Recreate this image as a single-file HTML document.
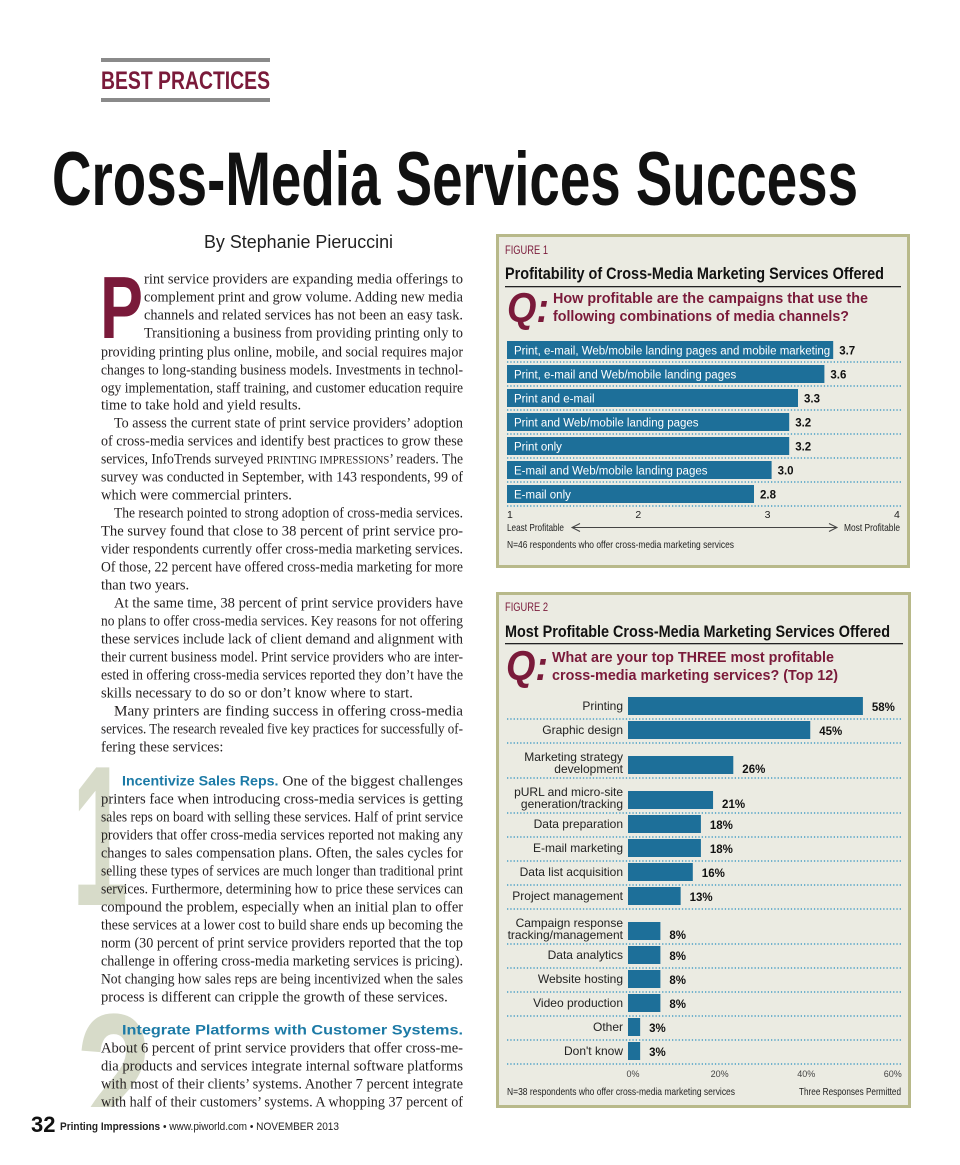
<!DOCTYPE html>
<html><head><meta charset="utf-8">
<style>
html,body{margin:0;padding:0;background:#fff;}
svg{display:block;}
.ser{font-family:"Liberation Serif",serif;font-size:14.5px;fill:#231f20;}
.sans{font-family:"Liberation Sans",sans-serif;}
</style></head>
<body>
<svg id="page" width="960" height="1165" viewBox="0 0 960 1165" xmlns="http://www.w3.org/2000/svg">
  <defs><clipPath id="clip2"><rect x="0" y="990" width="200" height="117"/></clipPath></defs>
  <rect x="101" y="58" width="169" height="4" fill="#8a8a8a"/>
  <text x="101" y="89" class="sans" font-size="25" font-weight="bold" fill="#7a1a3a" textLength="169" lengthAdjust="spacingAndGlyphs">BEST PRACTICES</text>
  <rect x="101" y="98" width="169" height="4" fill="#8a8a8a"/>
  <text x="52" y="205" class="sans" font-size="76" font-weight="bold" fill="#111" textLength="806" lengthAdjust="spacingAndGlyphs">Cross-Media Services Success</text>
  <text x="204" y="248" class="sans" font-size="18" fill="#222" textLength="189" lengthAdjust="spacingAndGlyphs">By Stephanie Pieruccini</text>
  <text x="100" y="338" class="sans" font-size="88" font-weight="bold" fill="#7a1a3a" textLength="43" lengthAdjust="spacingAndGlyphs">P</text>
  <text x="72" y="905" class="sans" font-size="200" font-weight="bold" fill="#d7dbc9" textLength="56" lengthAdjust="spacingAndGlyphs">1</text>
  <g clip-path="url(#clip2)"><text x="76" y="1146" class="sans" font-size="190" font-weight="bold" fill="#d7dbc9" textLength="76" lengthAdjust="spacingAndGlyphs">2</text></g>
  <g id="body"></g>
  <text x="31" y="1132" class="sans" font-size="22" font-weight="bold" fill="#111">32</text>
  <text x="60" y="1130" class="sans" font-size="11" fill="#222" textLength="279" lengthAdjust="spacingAndGlyphs"><tspan font-weight="bold">Printing Impressions</tspan> • www.piworld.com • NOVEMBER 2013</text>

  <rect x="497.5" y="235.5" width="411" height="331" fill="#ebebe2" stroke="#b8b98a" stroke-width="3"/>
  <text x="505" y="254" class="sans" font-size="12" fill="#7a1a3a" textLength="43" lengthAdjust="spacingAndGlyphs">FIGURE 1</text>
  <text x="505" y="279" class="sans" font-size="17" font-weight="bold" fill="#111" textLength="379" lengthAdjust="spacingAndGlyphs">Profitability of Cross-Media Marketing Services Offered</text>
  <rect x="505" y="286" width="396" height="1.3" fill="#222"/>
  <text x="507" y="322" class="sans" font-size="42" font-weight="bold" font-style="italic" fill="#7a1a3a" textLength="42" lengthAdjust="spacingAndGlyphs">Q:</text>
  <text x="553" y="303" class="sans" font-size="14.5" font-weight="bold" fill="#7a1a3a" textLength="315" lengthAdjust="spacingAndGlyphs">How profitable are the campaigns that use the</text>
  <text x="553" y="321" class="sans" font-size="14.5" font-weight="bold" fill="#7a1a3a" textLength="296" lengthAdjust="spacingAndGlyphs">following combinations of media channels?</text>
  <g id="chart1"></g>
  <text x="507" y="531" class="sans" font-size="10.5" fill="#222" textLength="57" lengthAdjust="spacingAndGlyphs">Least Profitable</text>
  <g stroke="#444" stroke-width="1" fill="none">
    <line x1="572" y1="527.5" x2="837" y2="527.5"/>
    <polyline points="580,523.5 572,527.5 580,531.5"/>
    <polyline points="829,523.5 837,527.5 829,531.5"/>
  </g>
  <text x="844" y="531" class="sans" font-size="10.5" fill="#222" textLength="56" lengthAdjust="spacingAndGlyphs">Most Profitable</text>
  <text x="507" y="548" class="sans" font-size="10.5" fill="#222" textLength="227" lengthAdjust="spacingAndGlyphs">N=46 respondents who offer cross-media marketing services</text>

  <rect x="497.5" y="593.5" width="412" height="513" fill="#ebebe2" stroke="#b8b98a" stroke-width="3"/>
  <text x="505" y="611" class="sans" font-size="12" fill="#7a1a3a" textLength="43" lengthAdjust="spacingAndGlyphs">FIGURE 2</text>
  <text x="505" y="637" class="sans" font-size="17" font-weight="bold" fill="#111" textLength="385" lengthAdjust="spacingAndGlyphs">Most Profitable Cross-Media Marketing Services Offered</text>
  <rect x="505" y="643" width="398" height="1.3" fill="#222"/>
  <text x="506" y="680" class="sans" font-size="42" font-weight="bold" font-style="italic" fill="#7a1a3a" textLength="42" lengthAdjust="spacingAndGlyphs">Q:</text>
  <text x="552" y="662" class="sans" font-size="14.5" font-weight="bold" fill="#7a1a3a" textLength="282" lengthAdjust="spacingAndGlyphs">What are your top THREE most profitable</text>
  <text x="552" y="680" class="sans" font-size="14.5" font-weight="bold" fill="#7a1a3a" textLength="286" lengthAdjust="spacingAndGlyphs">cross-media marketing services? (Top 12)</text>
  <g id="chart2"></g>
  <text x="507" y="1095" class="sans" font-size="10.5" fill="#222" textLength="228" lengthAdjust="spacingAndGlyphs">N=38 respondents who offer cross-media marketing services</text>
  <text x="799" y="1095" class="sans" font-size="10.5" fill="#222" textLength="102" lengthAdjust="spacingAndGlyphs">Three Responses Permitted</text>
</svg>
<script>
const NS='http://www.w3.org/2000/svg';
const cats1=["Print, e-mail, Web/mobile landing pages and mobile marketing","Print, e-mail and Web/mobile landing pages","Print and e-mail","Print and Web/mobile landing pages","Print only","E-mail and Web/mobile landing pages","E-mail only"];
const vals1=[3.7,3.6,3.3,3.2,3.2,3.0,2.8];
const valLabels1=["3.7","3.6","3.3","3.2","3.2","3.0","2.8"];
const ticks1=[1,2,3,4];
const cats2=["Printing","Graphic design","Marketing strategy\ndevelopment","pURL and micro-site\ngeneration/tracking","Data preparation","E-mail marketing","Data list acquisition","Project management","Campaign response\ntracking/management","Data analytics","Website hosting","Video production","Other","Don't know"];
const vals2=[58,45,26,21,18,18,16,13,8,8,8,8,3,3];
const ticks2=[0,20,40,60];
const tickLabels2=["0%","20%","40%","60%"];

function barX1(v){return 507.6+v*88;}
function axisX1(v){return 509+(v-1)*129.3;}
function barX2(v){return 628+v*4.05;}
function axisX2(v){return 633+v*4.33;}
function mk(tag,parent,attrs){const e=document.createElementNS(NS,tag);for(const k in attrs)e.setAttribute(k,attrs[k]);parent.appendChild(e);return e;}

const c1=document.getElementById('chart1');
cats1.forEach((c,i)=>{
  const y=341+i*24;
  const r=mk('rect',c1,{x:507,y:y,width:barX1(vals1[i])-507,height:18,fill:'#1d6f99'});
  
  
  const t=mk('text',c1,{x:514,y:y+13.5,'font-family':'Liberation Sans, sans-serif','font-size':'11.5',fill:'#fff'});
  t.textContent=c;
  
  
  const v=mk('text',c1,{x:barX1(vals1[i])+6,y:y+13.5,'font-family':'Liberation Sans, sans-serif','font-size':'11.5','font-weight':'bold',fill:'#111'});
  v.textContent=valLabels1[i];
  
  
  const d=mk('line',c1,{x1:507,x2:901,y1:y+21,y2:y+21,stroke:'#2a8fc0','stroke-width':'1.2','stroke-dasharray':'1.3 2'});
  
  
});
ticks1.forEach((tk,i)=>{
  const a=i===0?'start':(i===ticks1.length-1?'end':'middle');
  const t=mk('text',c1,{x:axisX1(tk)+(i===0?-2:(i===ticks1.length-1?3:0)),y:518,'text-anchor':a,'font-family':'Liberation Sans, sans-serif','font-size':'10.5',fill:'#222'});
  t.textContent=String(tk);
  
  
});

const c2=document.getElementById('chart2');
let rowTop=697;
cats2.forEach((c,i)=>{
  const two=c.includes('\n');
  if(i>0) rowTop+=24+(two?11:0);
  const y=rowTop;
  const r=mk('rect',c2,{x:628,y:y,width:barX2(vals2[i])-628,height:18,fill:'#1d6f99'});
  
  
  const lines=c.split('\n');
  lines.forEach((ln,j)=>{
    const yy=two?(y+5+j*12):(y+13);
    const t=mk('text',c2,{x:623,y:yy,'text-anchor':'end','font-family':'Liberation Sans, sans-serif','font-size':'12',fill:'#222'});
    t.textContent=ln;
    
    
  });
  const v=mk('text',c2,{x:barX2(vals2[i])+9,y:y+(two?17:14),'font-family':'Liberation Sans, sans-serif','font-size':'11.5','font-weight':'bold',fill:'#111'});
  v.textContent=vals2[i]+'%';
  
  
  const d=mk('line',c2,{x1:507,x2:903,y1:y+22,y2:y+22,stroke:'#2a8fc0','stroke-width':'1.2','stroke-dasharray':'1.3 2'});
  
  
});
ticks2.forEach((tk,i)=>{
  const t=mk('text',c2,{x:axisX2(tk),y:1077,'text-anchor':'middle','font-family':'Liberation Sans, sans-serif','font-size':'9',fill:'#444'});
  t.textContent=tickLabels2[i];
  
  
});

const body=document.getElementById('body');
const L=[
[279,144,"rint service providers are expanding media offerings to",1],
[297,144,"complement print and grow volume. Adding new media",1],
[315,144,"channels and related services has not been an easy task.",1],
[333,144,"Transitioning a business from providing printing only to",1],
[352,101,"providing printing plus online, mobile, and social requires major",1],
[370,101,"changes to long-standing business models. Investments in technol-",1],
[388,101,"ogy implementation, staff training, and customer education require",1],
[405,101,"time to take hold and yield results.",0],
[423,114,"To assess the current state of print service providers’ adoption",1],
[441,101,"of cross-media services and identify best practices to grow these",1],
[459,101,"services, InfoTrends surveyed <tspan font-size='11.5'>PRINTING IMPRESSIONS</tspan>’ readers. The",1],
[477,101,"survey was conducted in September, with 143 respondents, 99 of",1],
[495,101,"which were commercial printers.",0],
[513,114,"The research pointed to strong adoption of cross-media services.",1],
[531,101,"The survey found that close to 38 percent of print service pro-",1],
[549,101,"vider respondents currently offer cross-media marketing services.",1],
[567,101,"Of those, 22 percent have offered cross-media marketing for more",1],
[585,101,"than two years.",0],
[603,114,"At the same time, 38 percent of print service providers have",1],
[621,101,"no plans to offer cross-media services. Key reasons for not offering",1],
[639,101,"these services include lack of client demand and alignment with",1],
[657,101,"their current business model. Print service providers who are inter-",1],
[675,101,"ested in offering cross-media services reported they don’t have the",1],
[693,101,"skills necessary to do so or don’t know where to start.",0],
[711,114,"Many printers are finding success in offering cross-media",1],
[729,101,"services. The research revealed five key practices for successfully of-",1],
[747,101,"fering these services:",0],
[781,122,"<tspan font-family='Liberation Sans, sans-serif' font-weight='bold' fill='#1c7aa6' font-size='13.5'>Incentivize Sales Reps.</tspan> One of the biggest challenges",1],
[799,101,"printers face when introducing cross-media services is getting",1],
[817,101,"sales reps on board with selling these services. Half of print service",1],
[835,101,"providers that offer cross-media services reported not making any",1],
[853,101,"changes to sales compensation plans. Often, the sales cycles for",1],
[871,101,"selling these types of services are much longer than traditional print",1],
[889,101,"services. Furthermore, determining how to price these services can",1],
[907,101,"compound the problem, especially when an initial plan to offer",1],
[925,101,"these services at a lower cost to build share ends up becoming the",1],
[943,101,"norm (30 percent of print service providers reported that the top",1],
[961,101,"challenge in offering cross-media marketing services is pricing).",1],
[979,101,"Not changing how sales reps are being incentivized when the sales",1],
[997,101,"process is different can cripple the growth of these services.",0],
[1030,122,"<tspan font-family='Liberation Sans, sans-serif' font-weight='bold' fill='#1c7aa6' font-size='13.5'>Integrate Platforms with Customer Systems.</tspan>",1],
[1048,101,"About 6 percent of print service providers that offer cross-me-",1],
[1066,101,"dia products and services integrate internal software platforms",1],
[1084,101,"with most of their clients’ systems. Another 7 percent integrate",1],
[1102,101,"with half of their customers’ systems. A whopping 37 percent of",1]
];
L.forEach(l=>{
  const t=mk('text',body,{x:l[1],y:l[0]+4.5,class:'ser'});
  t.innerHTML=l[2];
  if(l[3]){t.setAttribute('textLength',463-l[1]);t.setAttribute('lengthAdjust','spacingAndGlyphs');}
  
  
});
</script>
</body></html>
